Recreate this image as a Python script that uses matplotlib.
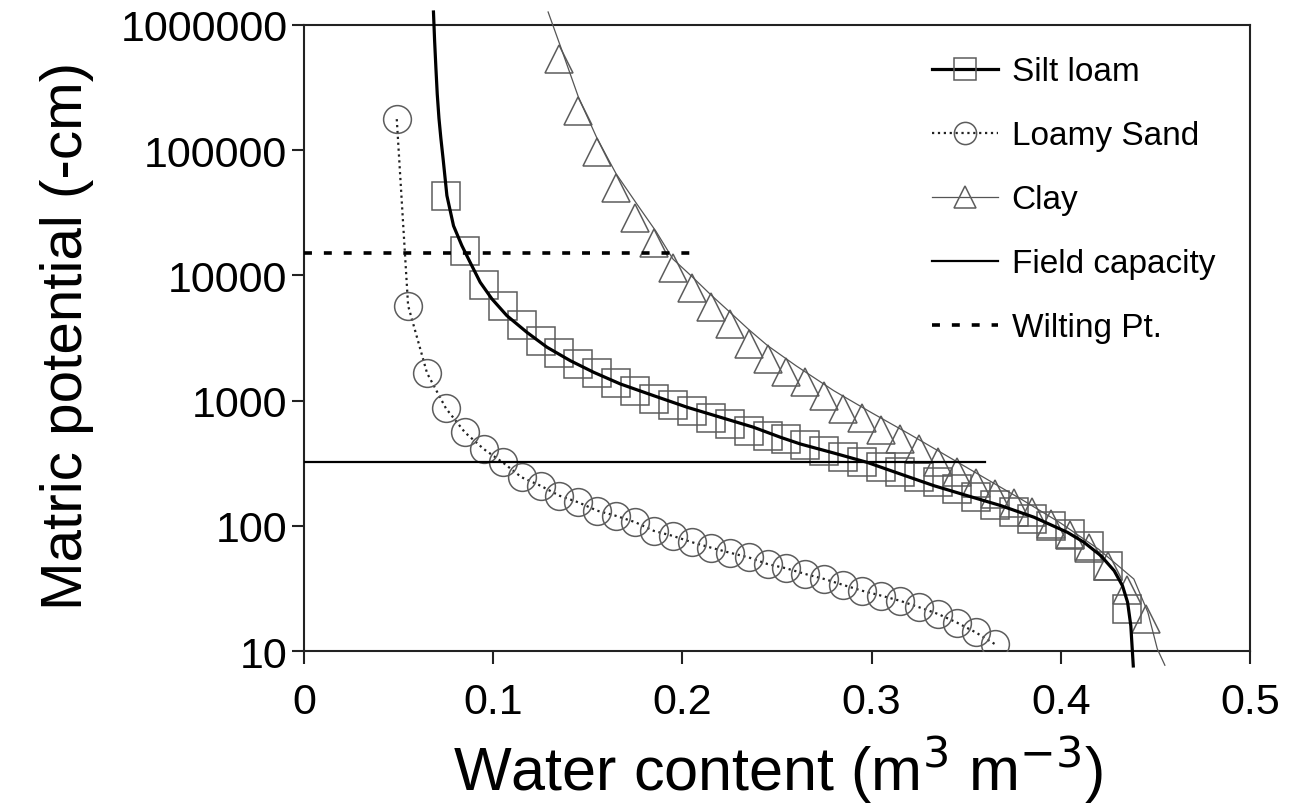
import numpy as np
import matplotlib.pyplot as plt
from matplotlib.lines import Line2D

plt.rcParams['font.family'] = ['Liberation Sans', 'DejaVu Sans']

# Silt loam: measured points (squares) and fitted curve
silt_theta = [0.075, 0.085, 0.095, 0.105, 0.115, 0.125, 0.135, 0.145, 0.155, 0.165,
              0.175, 0.185, 0.195, 0.205, 0.215, 0.225, 0.235, 0.245, 0.255, 0.265,
              0.275, 0.285, 0.295, 0.305, 0.315, 0.325, 0.335, 0.345, 0.355, 0.365,
              0.375, 0.385, 0.395, 0.405, 0.415, 0.425, 0.435]
silt_h = [43000, 15700, 8370, 5660, 3990, 3005, 2400, 1970, 1660, 1390,
          1186, 1035, 916, 822, 730, 650, 575, 525, 490, 445,
          398, 352, 321, 293, 267, 244, 225, 197, 170, 146,
          128, 113, 100, 86, 69, 48, 21.6]
silt_fit_theta = [0.0684, 0.0690, 0.0697, 0.0704, 0.0713, 0.0723, 0.0735, 0.0755,
                  0.0790, 0.0834, 0.0878, 0.0931, 0.0993, 0.1072, 0.1178, 0.1284,
                  0.1407, 0.1531, 0.1672, 0.1848, 0.2025, 0.2201, 0.2377, 0.2519,
                  0.2624, 0.2801, 0.2977, 0.3153, 0.3330, 0.3506, 0.3683, 0.3859,
                  0.4035, 0.4123, 0.4212, 0.4282, 0.4326, 0.4353, 0.4370, 0.4383]
silt_fit_h = [1.27e6, 750000, 450000, 280000, 180000, 125000, 85100, 43400,
              24900, 17300, 12700, 8810, 6490, 4770, 3510, 2670,
              2085, 1683, 1358, 1095, 885, 736, 612, 509,
              450, 381, 321, 259, 209, 174, 145, 117,
              88.7, 73.8, 57.7, 43.8, 33.2, 24.5, 15.9, 7.6]

# Loamy sand
sand_theta = [0.049, 0.055, 0.065, 0.075, 0.085, 0.095, 0.105, 0.115, 0.125, 0.135,
              0.145, 0.155, 0.165, 0.175, 0.185, 0.195, 0.205, 0.215, 0.225, 0.235,
              0.245, 0.255, 0.265, 0.275, 0.285, 0.295, 0.305, 0.315, 0.325, 0.335,
              0.345, 0.355, 0.365]
sand_h = [177000, 5730, 1660, 867, 558, 410, 321, 244, 209, 174,
          154, 132, 120, 107, 91, 83, 74, 67, 61, 56,
          49.5, 45.7, 41.2, 37.6, 33.7, 30.3, 27.7, 25.2, 22.4, 19.8,
          16.9, 14.1, 11.4]

# Clay: points (triangles) and curve
clay_theta = [0.135, 0.145, 0.155, 0.165, 0.175, 0.185, 0.195, 0.205, 0.215, 0.225,
              0.235, 0.245, 0.255, 0.265, 0.275, 0.285, 0.295, 0.305, 0.315, 0.325,
              0.335, 0.345, 0.355, 0.365, 0.375, 0.385, 0.395, 0.405, 0.415, 0.425,
              0.435, 0.445]
clay_h = [535000, 207000, 97000, 50000, 29000, 18000, 11500, 8000, 5600, 4100,
          2850, 2150, 1700, 1400, 1080, 860, 730, 580, 490, 410,
          325, 270, 220, 180, 152, 128, 104, 84, 66, 48,
          31, 18]
clay_fit_theta = [0.129, 0.1354, 0.145, 0.155, 0.165, 0.176, 0.186, 0.195, 0.205, 0.215,
                  0.225, 0.235, 0.245, 0.26, 0.28, 0.30, 0.32, 0.34, 0.36, 0.38,
                  0.40, 0.42, 0.4386, 0.446, 0.451, 0.455]
clay_fit_h = [1.27e6, 684000, 266000, 123000, 64600, 37000, 22500, 13500, 9800, 7000,
              5100, 3700, 2750, 1900, 1200, 800, 540, 360, 240, 160,
              105, 65, 37.6, 20.4, 10.4, 7.7]

# Reference lines
fc_theta = [0.0, 0.36]
fc_h = [325, 325]
wp_theta = [0.0, 0.21]
wp_h = [15000, 15000]

mk_edge = '#5c5c5c'

fig = plt.figure(figsize=(13.14, 8.12), dpi=100)
ax = fig.add_axes([0.2314, 0.197, 0.7199, 0.771])

ax.plot(silt_theta, silt_h, ls='none', marker='s', ms=20, mfc='none',
        mec=mk_edge, mew=1.1, zorder=3)
ax.plot(silt_fit_theta, silt_fit_h, color='black', lw=2.3, zorder=5, clip_on=False)

ax.plot(sand_theta, sand_h, ls=':', color='#222222', lw=1.6, marker='o', ms=20,
        mfc='none', mec=mk_edge, mew=1.1, zorder=4)

ax.plot(clay_theta, clay_h, ls='none', marker='^', ms=20, mfc='none',
        mec=mk_edge, mew=1.1, zorder=3)
ax.plot(clay_fit_theta, clay_fit_h, color='#555555', lw=0.9, zorder=4, clip_on=False)

ax.plot(fc_theta, fc_h, color='black', lw=1.6, zorder=4)
ax.plot(wp_theta, wp_h, color='black', lw=2.6, ls=(0, (2.2, 3.3)), zorder=4)

ax.set_yscale('log')
ax.set_xlim(0, 0.5)
ax.set_ylim(10, 1e6)
ax.set_yticks([10, 100, 1000, 10000, 100000, 1000000])
ax.set_yticklabels(['10', '100', '1000', '10000', '100000', '1000000'])
ax.yaxis.set_minor_locator(plt.NullLocator())
ax.set_xticks([0, 0.1, 0.2, 0.3, 0.4, 0.5])
ax.set_xticklabels(['0', '0.1', '0.2', '0.3', '0.4', '0.5'])

for s in ax.spines.values():
    s.set_linewidth(1.5)
    s.set_color('#222222')
ax.tick_params(axis='both', direction='out', length=9, width=1.5, color='#222222',
               labelsize=31)
ax.tick_params(axis='x', pad=13)
ax.tick_params(axis='y', pad=3)

ax.set_xlabel('Water content (m$^{3}$ m$^{-3}$)', fontsize=44)
ax.set_ylabel('Matric potential (-cm)', fontsize=42)
ax.xaxis.set_label_coords(0.501, -0.132)
ax.yaxis.set_label_coords(-0.222, 0.505)

handles = [
    Line2D([], [], color='black', lw=2.3, marker='s', ms=16, mfc='none', mec=mk_edge, mew=1.1),
    Line2D([], [], color='#222222', ls=':', lw=1.6, marker='o', ms=16, mfc='none', mec=mk_edge, mew=1.1),
    Line2D([], [], color='#555555', lw=0.9, marker='^', ms=16, mfc='none', mec=mk_edge, mew=1.1),
    Line2D([], [], color='black', lw=1.6),
    Line2D([], [], color='black', lw=2.6, ls=(0, (2.2, 3.3))),
]
labels = ['Silt loam', 'Loamy Sand', 'Clay', 'Field capacity', 'Wilting Pt.']
ax.legend(handles, labels, loc='upper left', bbox_to_anchor=(0.6494, 0.971), frameon=False,
          fontsize=24, handlelength=2.0, handletextpad=0.4, labelspacing=0.99,
          borderaxespad=0)

fig.savefig('out.png', dpi=100, facecolor='white')
